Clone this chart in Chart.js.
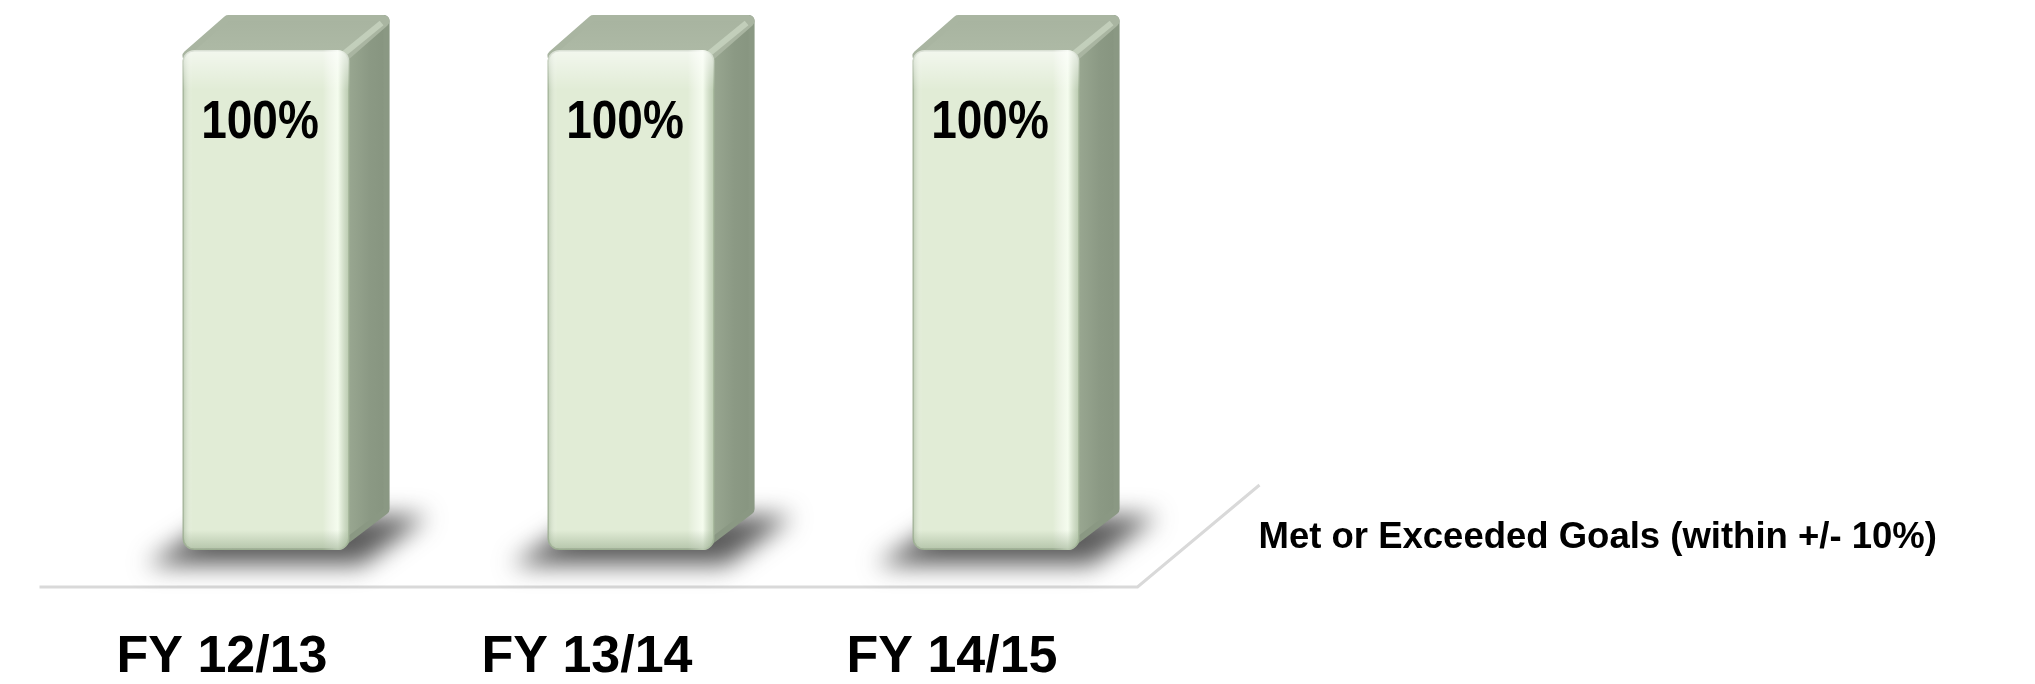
<!DOCTYPE html>
<html>
<head>
<meta charset="utf-8">
<script src="https://cdn.jsdelivr.net/npm/chart.js@4.4.0/dist/chart.umd.min.js"></script>
<style>
  html, body { margin: 0; padding: 0; background: #fff; }
</style>
</head>
<body>
<canvas id="goal-chart" width="2035" height="684"></canvas>
<script>
const years = ['FY 12/13', 'FY 13/14', 'FY 14/15'];
const metGoals = [100, 100, 100];
const seriesName = 'Met or Exceeded Goals (within +/- 10%)';

// depth of the fake 3d box
const DX = 40;
const DY = 35;

function poly(ctx, pts) {
    ctx.beginPath();
    ctx.moveTo(pts[0][0], pts[0][1]);
    for (let i = 1; i < pts.length; i++) ctx.lineTo(pts[i][0], pts[i][1]);
    ctx.closePath();
}

const box3d = {
    id: 'box3d',
    beforeDatasetsDraw(chart) {
        const ctx = chart.ctx;
        const area = chart.chartArea;
        const meta = chart.getDatasetMeta(0);

        // floor
        ctx.save();
        ctx.strokeStyle = '#d9d9d9';
        ctx.lineWidth = 3;
        ctx.beginPath();
        ctx.moveTo(area.left - 44, area.bottom + 37);
        ctx.lineTo(area.right - 41, area.bottom + 37);
        ctx.lineTo(area.right + 81, area.bottom - 65);
        ctx.stroke();
        ctx.restore();

        meta.data.forEach(el => {
            const { x, y, base, width } = el.getProps(['x', 'y', 'base', 'width'], true);
            const left = x - width / 2;
            const right = x + width / 2;

            // shadow on the floor
            ctx.save();
            ctx.filter = 'blur(12px)';
            ctx.fillStyle = 'rgba(50,50,50,0.8)';
            poly(ctx, [[left - 36, base + 15], [right + 12, base + 15], [right + 78, base - 34], [left + 40, base - 34]]);
            ctx.fill();
            ctx.restore();

            ctx.save();
            ctx.lineJoin = 'round';
            ctx.lineWidth = 12;

            // side face
            let g = ctx.createLinearGradient(right, 0, right + DX, 0);
            g.addColorStop(0, '#98a690');
            g.addColorStop(0.5, '#8b9984');
            g.addColorStop(1, '#86947f');
            ctx.fillStyle = g;
            ctx.strokeStyle = '#8a9883';
            poly(ctx, [[right - 12, y + 6], [right + DX - 6, y - DY + 6], [right + DX - 6, base - DY - 6], [right - 12, base - 6]]);
            ctx.stroke();
            ctx.fill();

            // top face
            g = ctx.createLinearGradient(0, y, 0, y - DY);
            g.addColorStop(0, '#adb9a5');
            g.addColorStop(1, '#a7b39f');
            ctx.fillStyle = g;
            ctx.strokeStyle = '#a9b5a1';
            poly(ctx, [[left + 6, y + 6], [left + DX + 6, y - DY + 6], [right + DX - 6, y - DY + 6], [right - 6, y + 6]]);
            ctx.stroke();
            ctx.fill();

            // light ridge between top and side
            ctx.strokeStyle = 'rgba(200,212,192,0.8)';
            ctx.lineWidth = 6;
            ctx.beginPath();
            ctx.moveTo(right - 6, y + 4);
            ctx.lineTo(right + DX - 8, y - DY + 8);
            ctx.stroke();
            ctx.restore();
        });
    },
    afterDatasetsDraw(chart) {
        const ctx = chart.ctx;
        const area = chart.chartArea;
        const meta = chart.getDatasetMeta(0);

        meta.data.forEach((el, i) => {
            const { x, y, base, width } = el.getProps(['x', 'y', 'base', 'width'], true);
            const left = x - width / 2;

            // soft shading on the front face
            ctx.save();
            ctx.beginPath();
            ctx.roundRect(left, y, width, base - y, 12);
            ctx.clip();
            let g = ctx.createLinearGradient(left, 0, left + width, 0);
            g.addColorStop(0, 'rgba(150,170,140,0.55)');
            g.addColorStop(0.06, 'rgba(255,255,255,0)');
            g.addColorStop(0.84, 'rgba(255,255,255,0)');
            g.addColorStop(0.93, 'rgba(248,255,242,0.85)');
            g.addColorStop(1, 'rgba(160,180,150,0.6)');
            ctx.fillStyle = g;
            ctx.fillRect(left, y, width, base - y);
            g = ctx.createLinearGradient(0, y, 0, y + 40);
            g.addColorStop(0, 'rgba(255,255,255,0.6)');
            g.addColorStop(1, 'rgba(255,255,255,0)');
            ctx.fillStyle = g;
            ctx.fillRect(left, y, width, 40);
            g = ctx.createLinearGradient(0, base - 20, 0, base);
            g.addColorStop(0, 'rgba(150,170,140,0)');
            g.addColorStop(1, 'rgba(150,170,140,0.6)');
            ctx.fillStyle = g;
            ctx.fillRect(left, base - 20, width, 20);
            ctx.restore();

            // value label
            ctx.save();
            ctx.font = 'bold 46px "Liberation Sans", Arial, sans-serif';
            ctx.fillStyle = '#000';
            ctx.textAlign = 'center';
            ctx.textBaseline = 'alphabetic';
            ctx.translate(x - 6, y + 88);
            ctx.scale(1, 1.18);
            ctx.fillText(metGoals[i] + '%', 0, 0);
            ctx.restore();
        });

        // series name, drawn where the legend sits
        ctx.save();
        ctx.font = 'bold 36.5px "Liberation Sans", Arial, sans-serif';
        ctx.fillStyle = '#000';
        ctx.textAlign = 'left';
        ctx.textBaseline = 'alphabetic';
        ctx.fillText(seriesName, area.right + 80, area.bottom - 2);
        ctx.restore();
    }
};

new Chart(document.getElementById('goal-chart'), {
    type: 'bar',
    data: {
        labels: years,
        datasets: [{
            label: seriesName,
            data: metGoals,
            backgroundColor: '#e1ecd6',
            borderColor: '#a3b397',
            borderWidth: 1.5,
            borderRadius: 12,
            borderSkipped: false,
            categoryPercentage: 1,
            barPercentage: 0.458
        }]
    },
    options: {
        responsive: false,
        devicePixelRatio: 1,
        animation: false,
        layout: {
            padding: { left: 83.5, right: 856.5, top: 50, bottom: 0 }
        },
        scales: {
            x: {
                grid: { display: false },
                border: { display: false },
                ticks: {
                    color: '#000',
                    font: { family: '"Liberation Sans", Arial, sans-serif', size: 52, weight: 'bold' },
                    labelOffset: -44,
                    padding: 68
                },
                afterFit(scale) {
                    scale.height = 134;
                }
            },
            y: {
                display: false,
                min: 0,
                max: 100
            }
        },
        plugins: {
            legend: { display: false },
            tooltip: { enabled: false }
        }
    },
    plugins: [box3d]
});
</script>
</body>
</html>
